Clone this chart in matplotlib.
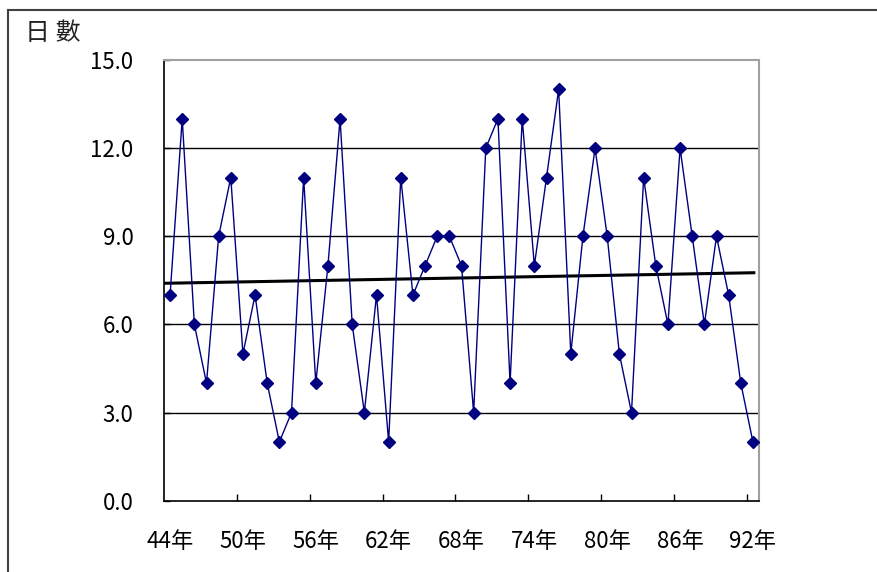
import numpy as np
import matplotlib
matplotlib.use("Agg")
import matplotlib.pyplot as plt
from matplotlib.lines import Line2D

plt.rcParams['font.family'] = ['Noto Sans CJK TC', 'DejaVu Sans']

# 民國 44 ~ 92 年，每年日數
years = list(range(44, 93))
days = [7, 13, 6, 4, 9, 11, 5, 7, 4, 2, 3, 11, 4, 8, 13, 6, 3, 7, 2, 11,
        7, 8, 9, 9, 8, 3, 12, 13, 4, 13, 8, 11, 14, 5, 9, 12, 9, 5, 3, 11,
        8, 6, 12, 9, 6, 9, 7, 4, 2]
# trend line as drawn in the original (start / end value)
trend_x = [-0.5, 48.2]
trend_y = [7.40, 7.76]
y_ticks = [0, 3, 6, 9, 12, 15]
label_years = years[::6]

x = np.arange(len(years))

fig = plt.figure(figsize=(8.78, 5.72), dpi=100)
ax = fig.add_axes([164 / 878, 1 - 500.7 / 572, 595 / 878, 440.7 / 572])

for v in y_ticks[1:-1]:
    ax.axhline(v, color='black', lw=1.0, zorder=1)

ax.plot(trend_x, trend_y, color='black', lw=2.2, zorder=2, solid_capstyle='butt')
ax.plot(x, days, color='#000080', lw=1.0, marker='D', markersize=6,
        markerfacecolor='#000080', markeredgecolor='#000080', zorder=3)

ax.set_xlim(-0.5, len(years) - 0.5)
ax.set_ylim(0, 15)

# tick marks between categories, labels centred on categories
ax.set_xticks(np.arange(5.5, len(years) - 0.5, 6))
ax.set_xticklabels([])
ax.set_xticks(x[::6], minor=True)
ax.set_xticklabels([f'{y}年' for y in label_years], minor=True, fontsize=16)
ax.tick_params(axis='x', which='major', direction='in', length=5, width=1, color='black')
ax.tick_params(axis='x', which='minor', length=0, pad=21)

ax.set_yticks(y_ticks)
ax.set_yticklabels([f'{v:.1f}' for v in y_ticks], fontsize=16)
ax.tick_params(axis='y', direction='in', length=4, width=1, pad=22)

for s in ['left', 'bottom']:
    ax.spines[s].set_color('black')
    ax.spines[s].set_linewidth(1.2)
for s in ['top', 'right']:
    ax.spines[s].set_color('#a0a0a0')
    ax.spines[s].set_linewidth(1.5)

fig.text(25 / 878, 1 - 33 / 572, '日 數', fontsize=18, va='center', ha='left', color='#222222')

# outer chart frame (only left and top edges visible)
fig.add_artist(Line2D([8 / 878, 8 / 878], [0, 1 - 10 / 572], transform=fig.transFigure,
                      color='#404040', lw=1.5))
fig.add_artist(Line2D([8 / 878, 1], [1 - 10 / 572, 1 - 10 / 572], transform=fig.transFigure,
                      color='#404040', lw=1.5))

fig.savefig('out.png', dpi=100)
